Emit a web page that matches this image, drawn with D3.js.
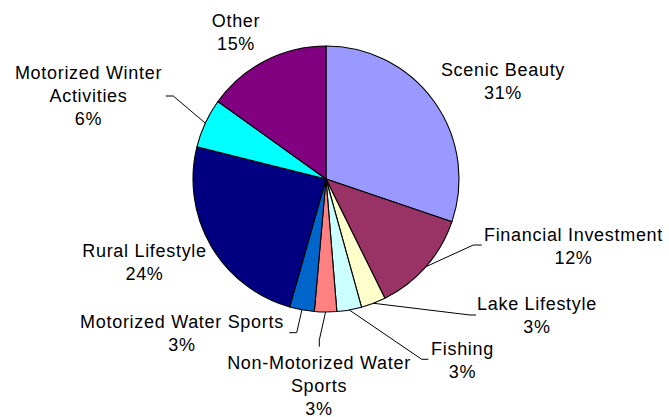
<!DOCTYPE html>
<html><head><meta charset="utf-8">
<script src="https://cdn.jsdelivr.net/npm/d3@7"></script>
<style>
html,body{margin:0;padding:0;background:#fff;}
svg{display:block;}
text{font-family:"Liberation Sans",Arial,sans-serif;font-size:18px;fill:#000;letter-spacing:0.7px;}
</style></head>
<body>
<svg id="chart" width="669" height="417"></svg>
<script>
// ---- data ----
const categories = ["Scenic Beauty","Financial Investment","Lake Lifestyle","Fishing",
  "Non-Motorized Water Sports","Motorized Water Sports","Rural Lifestyle",
  "Motorized Winter Activities","Other"];
const values = [30.2, 12.5, 3.0, 3.0, 2.7, 3.0, 24.5, 6.0, 15.1];
const percentLabels = ["31%","12%","3%","3%","3%","3%","24%","6%","15%"];
const colors = ["#9999FF","#993366","#FFFFCC","#CCFFFF","#FF8080","#0066CC","#000080","#00FFFF","#800080"];

// ---- layout (label placement) ----
const labelLines = [
  ["Scenic Beauty"], ["Financial Investment"], ["Lake Lifestyle"], ["Fishing"],
  ["Non-Motorized Water","Sports"], ["Motorized Water Sports"], ["Rural Lifestyle"],
  ["Motorized Winter","Activities"], ["Other"]
];
const labelPos = [ // center x, first baseline y
  [503, 76], [573.5, 241], [537, 310], [462.5, 355],
  [319, 368.5], [182, 327.5], [144.5, 256.5], [88.5, 79], [236, 26.5]
];
// leader line elbow points [bendX, bendY, endX] or null
const leaders = [
  null, [473.3, 245, 481.7], [470, 315, 476], [421.7, 359.3, 428.3],
  [319.3, 340, 346.7], [296.7, 332.7, 289.3], null, [173.3, 96, 165.7], null
];
const lineH = 23;

const svg = d3.select("#chart");
const cx = 326, cy = 179, r = 133;
const g = svg.append("g").attr("transform", `translate(${cx},${cy})`);

const pie = d3.pie().sort(null).value(d => d.v);
const arcs = pie(values.map((v,i) => ({v, i})));
const arc = d3.arc().innerRadius(0).outerRadius(r);

g.selectAll("path.slice").data(arcs).join("path")
  .attr("class","slice")
  .attr("d", arc)
  .attr("fill", d => colors[d.data.i])
  .attr("stroke", "#000")
  .attr("stroke-width", 1.1)
  .attr("stroke-linejoin","round");

// leader lines
arcs.forEach(d => {
  const L = leaders[d.data.i];
  if (!L) return;
  const mid = (d.startAngle + d.endAngle) / 2;
  const sx = cx + r * Math.sin(mid), sy = cy - r * Math.cos(mid);
  let pts;
  if (d.data.i === 4) pts = [[sx, sy],[L[0], L[1]],[L[0], L[2]]];
  else pts = [[sx, sy],[L[0], L[1]],[L[2], L[1]]];
  svg.append("path")
    .attr("d", d3.line()(pts))
    .attr("fill","none").attr("stroke","#000").attr("stroke-width",1);
});

// labels
categories.forEach((c, i) => {
  const [x, y] = labelPos[i];
  const lines = labelLines[i].concat([percentLabels[i]]);
  const t = svg.append("text").attr("text-anchor","middle");
  lines.forEach((ln, k) => {
    t.append("tspan").attr("x", x).attr("y", y + k * lineH).text(ln);
  });
});
</script>
</body></html>
